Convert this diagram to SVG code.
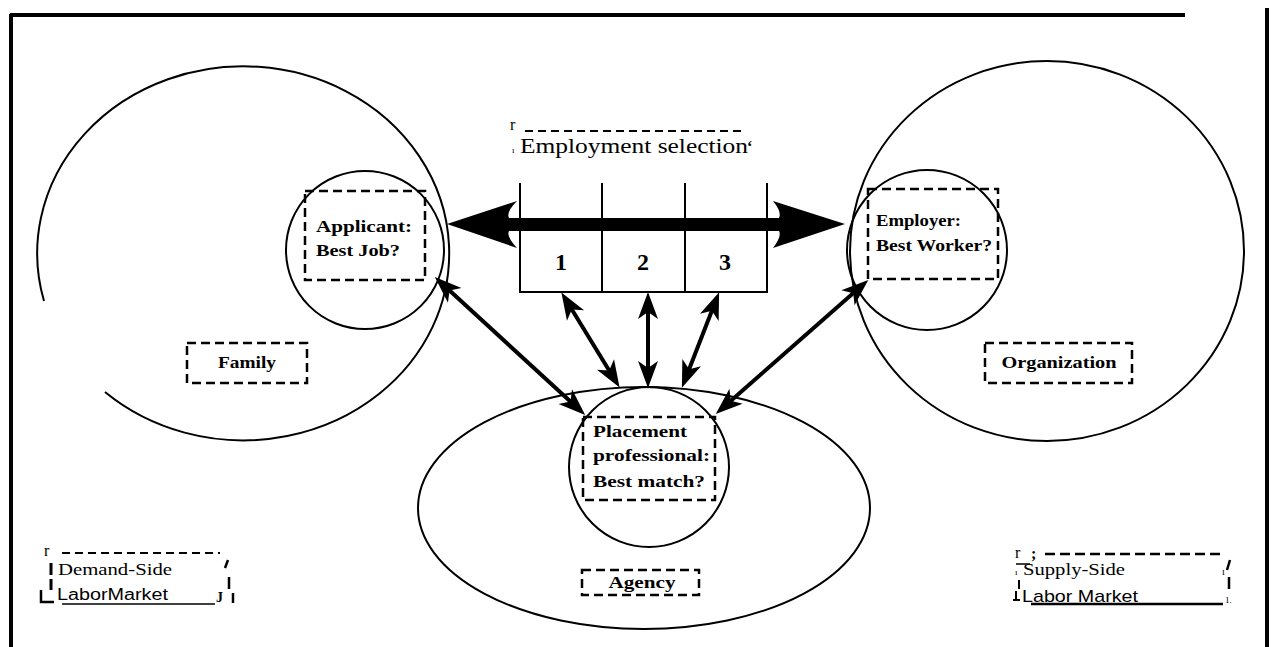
<svg xmlns="http://www.w3.org/2000/svg" width="1272" height="647" viewBox="0 0 1272 647">
<style>
.ln{fill:none;stroke:#000;stroke-width:2}
.dash{fill:none;stroke:#000;stroke-width:2.5;stroke-dasharray:9 5}
.lbl{font-family:"Liberation Serif",serif;font-weight:bold;font-size:17px;fill:#000}
.num{font-family:"Liberation Serif",serif;font-weight:bold;font-size:24px;fill:#000}
.ser{font-family:"Liberation Serif",serif;font-size:16px;fill:#000}
.san{font-family:"Liberation Sans",sans-serif;font-size:16px;fill:#000}
.arr{fill:none;stroke:#000;stroke-width:4;marker-start:url(#ah);marker-end:url(#ah)}
</style>
<defs>
<marker id="ah" markerUnits="userSpaceOnUse" viewBox="-2 -14 32 28" markerWidth="32" markerHeight="28" refX="14" refY="0" orient="auto-start-reverse">
<path d="M27,0 L0,-10 L7,0 L0,10 Z" fill="#000"/>
</marker>
</defs>
<rect width="1272" height="647" fill="#fff"/>
<g id="frame">
<path d="M10,15 H1185 M11,14 V647 M1267,8 V647" fill="none" stroke="#000" stroke-width="4"/>
</g>
<g id="family">
<path class="ln" d="M105,392 A206,187 0 1 0 44,301"/>
<rect class="dash" x="187" y="343" width="120" height="40"/>
<text class="lbl" x="247" y="368" text-anchor="middle" textLength="58" lengthAdjust="spacingAndGlyphs">Family</text>
</g>
<g id="organization">
<ellipse class="ln" cx="1047" cy="251" rx="197" ry="190"/>
<rect class="dash" x="985" y="343" width="147" height="40"/>
<text class="lbl" x="1059" y="368" text-anchor="middle" textLength="115" lengthAdjust="spacingAndGlyphs">Organization</text>
</g>
<g id="agency">
<ellipse class="ln" cx="644" cy="508" rx="226" ry="121"/>
<rect class="dash" x="582" y="570" width="117" height="25"/>
<text class="lbl" x="642" y="588" text-anchor="middle" textLength="67" lengthAdjust="spacingAndGlyphs">Agency</text>
</g>
<g id="applicant">
<circle class="ln" cx="365" cy="250" r="79"/>
<rect class="dash" x="305" y="191" width="120" height="89"/>
<text class="lbl" x="316" y="232" textLength="96" lengthAdjust="spacingAndGlyphs">Applicant:</text>
<text class="lbl" x="316" y="256" textLength="84" lengthAdjust="spacingAndGlyphs">Best Job?</text>
</g>
<g id="employer">
<circle class="ln" cx="927" cy="250" r="80"/>
<rect class="dash" x="868" y="189" width="130" height="90"/>
<text class="lbl" x="876" y="226" textLength="85" lengthAdjust="spacingAndGlyphs">Employer:</text>
<text class="lbl" x="876" y="251" textLength="116" lengthAdjust="spacingAndGlyphs">Best Worker?</text>
</g>
<g id="placement">
<circle class="ln" cx="649" cy="467" r="80"/>
<rect class="dash" x="583" y="417" width="132" height="83"/>
<text class="lbl" x="593" y="437" textLength="94" lengthAdjust="spacingAndGlyphs">Placement</text>
<text class="lbl" x="593" y="461" textLength="117" lengthAdjust="spacingAndGlyphs">professional:</text>
<text class="lbl" x="593" y="487" textLength="112" lengthAdjust="spacingAndGlyphs">Best match?</text>
</g>
<g id="selection">
<text class="ser" x="510" y="130" style="font-size:16px">r</text>
<line class="dash" x1="525" y1="131" x2="745" y2="131" style="stroke-width:2;stroke-dasharray:8 5"/>
<text class="ser" x="512" y="153" style="font-size:9px">ı</text>
<text class="ser" x="520" y="153" style="font-size:22px" textLength="228" lengthAdjust="spacingAndGlyphs">Employment selection</text>
<text class="ser" x="747" y="152" style="font-size:16px;font-weight:bold">ʻ</text>
<path class="ln" d="M520,183 V292 H767 V183 M602,183 V292 M685,183 V292"/>
<text class="num" x="561" y="270" text-anchor="middle">1</text>
<text class="num" x="643" y="270" text-anchor="middle">2</text>
<text class="num" x="725" y="270" text-anchor="middle">3</text>
</g>
<g id="demand">
<text class="ser" x="44" y="556">r</text>
<line class="dash" x1="62" y1="553" x2="220" y2="553" style="stroke-width:2;stroke-dasharray:8 5"/>
<path d="M51,563 V575 M51,579 V590" stroke="#000" stroke-width="3" fill="none"/>
<text class="ser" x="58" y="575" textLength="114" lengthAdjust="spacingAndGlyphs">Demand-Side</text>
<path d="M41,590 V602 H54" stroke="#000" stroke-width="2.5" fill="none"/>
<text class="san" x="57" y="600" textLength="111" lengthAdjust="spacingAndGlyphs">LaborMarket</text>
<line x1="62" y1="604" x2="215" y2="604" stroke="#000" stroke-width="1.5"/>
<path d="M228,560 L225,568 M229,577 V589 M233,593 V603" stroke="#000" stroke-width="2.5" fill="none"/>
<text class="ser" x="216" y="602" style="font-weight:bold;font-size:14px">J</text>
</g>
<g id="supply">
<text class="ser" x="1015" y="558">r</text>
<text class="ser" x="1031" y="559" style="font-weight:bold">;</text>
<line x1="1016" y1="564" x2="1030" y2="564" stroke="#000" stroke-width="1.5"/>
<line class="dash" x1="1045" y1="554" x2="1222" y2="554" style="stroke-width:2.5;stroke-dasharray:10 5"/>
<text class="ser" x="1015" y="575" style="font-size:9px">ı</text>
<text class="ser" x="1023" y="575" textLength="102" lengthAdjust="spacingAndGlyphs">Supply-Side</text>
<path d="M1019,580 V589 M1016,591 V601 M1013,600 H1020" stroke="#000" stroke-width="2" fill="none"/>
<text class="san" x="1022" y="602" textLength="116" lengthAdjust="spacingAndGlyphs" style="font-size:17px">Labor Market</text>
<line x1="1031" y1="604" x2="1223" y2="604" stroke="#000" stroke-width="2.5"/>
<text class="ser" x="1222" y="575" style="font-size:10px">ı</text>
<path d="M1230,560 L1227,570 M1229,577 V589" stroke="#000" stroke-width="2.5" fill="none"/>
<text class="ser" x="1225" y="603" style="font-size:9px">1.</text>
</g>
<g id="connectors">
<path d="M447,224 L517,201 Q506,212 509,218 L779,218 Q782,212 773,201 L845,224 L773,248 Q782,236 779,231 L509,231 Q506,236 517,248 Z" fill="#000"/>
<line class="arr" x1="444.4" y1="285.8" x2="575.6" y2="406.2"/>
<line class="arr" x1="568.2" y1="303.5" x2="612.8" y2="376.5"/>
<line class="arr" x1="648" y1="305" x2="648" y2="375"/>
<line class="arr" x1="714.4" y1="304.3" x2="686.6" y2="375.7"/>
<line class="arr" x1="858.5" y1="288.6" x2="725.5" y2="405.4"/>
</g>
</svg>
